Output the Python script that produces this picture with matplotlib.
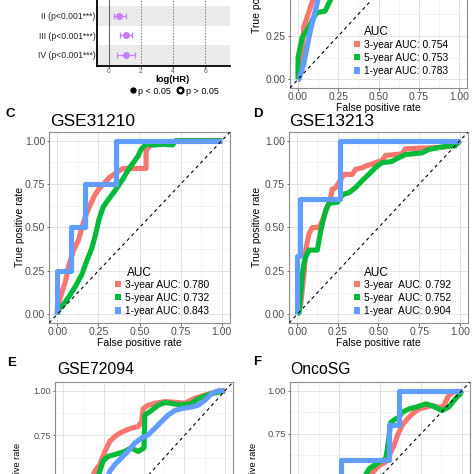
import matplotlib
matplotlib.use('Agg')
import matplotlib.pyplot as plt
from matplotlib.patches import Patch
from matplotlib.lines import Line2D

plt.rcParams['font.family'] = ['Liberation Sans', 'DejaVu Sans']

# ---------------- data ----------------
forest_labels = ['II (p<0.001***)', 'III (p<0.001***)', 'IV (p<0.001***)']
forest_loghr = [0.62, 1.06, 1.06]
forest_lo = [0.33, 0.69, 0.48]
forest_hi = [1.06, 1.46, 1.63]
forest_ticks = [0, 2, 4, 6]

roc_ticks = [0, 0.25, 0.5, 0.75, 1.0]
roc_ticklabels = ['0.00', '0.25', '0.50', '0.75', '1.00']
series_colors = ['#F8766D', '#00BA38', '#619CFF']

# Panel B (top right, partly visible)
b_3y_fpr = [0, 0.005, 0.025, 0.035, 0.055, 0.076, 0.096, 0.13, 0.2, 0.35, 0.6, 1.0]
b_3y_tpr = [0, 0.0, 0.125, 0.30, 0.355, 0.413, 0.47, 0.6, 0.75, 0.88, 0.96, 1.0]
b_5y_fpr = [0, 0.0, 0.0, 0.025, 0.066, 0.096, 0.117, 0.168, 0.188, 0.209, 0.3, 0.5, 0.7, 1.0]
b_5y_tpr = [0, 0.0, 0.125, 0.24, 0.298, 0.355, 0.384, 0.393, 0.432, 0.47, 0.65, 0.85, 0.95, 1.0]
b_1y_fpr = [0, 0.005, 0.035, 0.055, 0.076, 0.096, 0.117, 0.127, 0.18, 0.3, 0.5, 1.0]
b_1y_tpr = [0, 0.0, 0.086, 0.18, 0.278, 0.355, 0.432, 0.47, 0.65, 0.85, 0.95, 1.0]
b_labels = ['3-year AUC: 0.754', '5-year AUC: 0.753', '1-year AUC: 0.783']

# Panel C: GSE31210
c_3y_fpr = [0, 0.0, 0.02, 0.05, 0.07, 0.10, 0.13, 0.15, 0.17, 0.20, 0.23, 0.26, 0.29, 0.32, 0.35,
            0.40, 0.48, 0.54, 0.54, 0.56, 0.62, 0.8, 1.0]
c_3y_tpr = [0, 0.03, 0.10, 0.19, 0.28, 0.37, 0.43, 0.50, 0.56, 0.63, 0.69, 0.73, 0.76, 0.79, 0.81,
            0.84, 0.84, 0.84, 0.94, 0.97, 0.99, 1.0, 1.0]
c_5y_fpr = [0, 0.01, 0.04, 0.07, 0.11, 0.15, 0.18, 0.21, 0.23, 0.255, 0.28, 0.31, 0.35, 0.40, 0.43,
            0.46, 0.49, 0.51, 0.54, 0.58, 0.65, 0.70, 0.72, 1.0]
c_5y_tpr = [0, 0.03, 0.06, 0.10, 0.16, 0.23, 0.31, 0.38, 0.45, 0.55, 0.62, 0.66, 0.71, 0.78, 0.83,
            0.87, 0.91, 0.95, 0.98, 0.975, 0.98, 0.975, 1.0, 1.0]
c_1y_fpr = [0, 0, 0.083, 0.083, 0.167, 0.167, 0.36, 0.36, 1.0]
c_1y_tpr = [0, 0.25, 0.25, 0.5, 0.5, 0.75, 0.75, 1.0, 1.0]
c_labels = ['3-year AUC: 0.780', '5-year AUC: 0.732', '1-year AUC: 0.843']

# Panel D: GSE13213
d_3y_fpr = [0, 0.01, 0.022, 0.043, 0.053, 0.073, 0.094, 0.135, 0.155, 0.186, 0.206, 0.216, 0.237,
            0.257, 0.288, 0.339, 0.359, 0.40, 0.42, 0.522, 0.543, 0.645, 0.665, 0.89, 0.95, 0.99, 1.0]
d_3y_tpr = [0, 0.02, 0.06, 0.24, 0.37, 0.465, 0.50, 0.50, 0.54, 0.617, 0.674, 0.72, 0.73,
            0.76, 0.806, 0.806, 0.835, 0.844, 0.853, 0.886, 0.915, 0.924, 0.953, 0.962, 0.97, 0.99, 1.0]
d_5y_fpr = [0, 0.012, 0.022, 0.033, 0.043, 0.053, 0.073, 0.124, 0.135, 0.145, 0.165, 0.176, 0.196,
            0.247, 0.267, 0.288, 0.318, 0.359, 0.40, 0.44, 0.48, 0.52, 0.58, 0.62, 0.665, 0.767,
            0.81, 0.87, 0.93, 0.97, 1.0]
d_5y_tpr = [0, 0.01, 0.127, 0.24, 0.30, 0.33, 0.37, 0.37, 0.43, 0.48, 0.56, 0.60, 0.64,
            0.645, 0.674, 0.693, 0.70, 0.73, 0.77, 0.806, 0.844, 0.873, 0.88, 0.90, 0.92, 0.93,
            0.95, 0.96, 0.97, 0.97, 1.0]
d_1y_fpr = [0, 0, 0.02, 0.02, 0.265, 0.265, 1.0]
d_1y_tpr = [0, 0.333, 0.333, 0.667, 0.667, 1.0, 1.0]
d_labels = ['3-year  AUC: 0.792', '5-year  AUC: 0.752', '1-year  AUC: 0.904']

# Panel E: GSE72094
e_3y_fpr = [0, 0.03, 0.08, 0.12, 0.16, 0.196, 0.227, 0.258, 0.289, 0.32, 0.35, 0.39, 0.42, 0.464,
            0.485, 0.495, 0.526, 0.567, 0.63, 0.71, 0.75, 0.81, 0.876, 0.96, 1.0]
e_3y_tpr = [0, 0.12, 0.25, 0.36, 0.46, 0.55, 0.587, 0.66, 0.717, 0.744, 0.763, 0.78, 0.79, 0.80,
            0.828, 0.90, 0.92, 0.93, 0.94, 0.935, 0.93, 0.957, 0.976, 1.0, 1.0]
e_5y_fpr = [0, 0.04, 0.1, 0.15, 0.19, 0.227, 0.247, 0.278, 0.32, 0.38, 0.42, 0.464, 0.50, 0.505,
            0.546, 0.588, 0.63, 0.67, 0.73, 0.794, 0.835, 0.918, 1.0]
e_5y_tpr = [0, 0.1, 0.22, 0.34, 0.45, 0.55, 0.606, 0.633, 0.643, 0.66, 0.68, 0.66, 0.68, 0.865,
            0.89, 0.92, 0.935, 0.93, 0.92, 0.93, 0.957, 0.985, 1.0]
e_1y_fpr = [0, 0.05, 0.1, 0.16, 0.22, 0.26, 0.289, 0.32, 0.36, 0.40, 0.443, 0.485, 0.526, 0.567,
            0.608, 0.65, 0.69, 0.73, 0.794, 0.835, 0.876, 0.918, 0.96, 1.0]
e_1y_tpr = [0, 0.08, 0.17, 0.28, 0.40, 0.48, 0.55, 0.587, 0.624, 0.66, 0.707, 0.735, 0.754, 0.79,
            0.828, 0.865, 0.89, 0.90, 0.91, 0.92, 0.948, 0.985, 1.0, 1.0]

# Panel F: OncoSG
f_3y_fpr = [0, 0.1, 0.2, 0.3, 0.4, 0.495, 0.535, 0.556, 0.586, 0.606, 0.636, 0.667, 0.697, 0.737,
            0.778, 0.818, 0.859, 0.889, 0.899, 0.919, 0.95, 0.99, 1.0]
f_3y_tpr = [0, 0.12, 0.25, 0.37, 0.47, 0.567, 0.587, 0.625, 0.683, 0.74, 0.80, 0.836, 0.865, 0.894,
            0.904, 0.913, 0.904, 0.904, 0.933, 0.97, 0.994, 0.99, 1.0]
f_5y_fpr = [0, 0.1, 0.2, 0.3, 0.38, 0.434, 0.495, 0.535, 0.545, 0.556, 0.566, 0.596, 0.616, 0.636,
            0.677, 0.717, 0.778, 0.818, 0.879, 0.919, 0.96, 0.99, 1.0]
f_5y_tpr = [0, 0.1, 0.22, 0.35, 0.46, 0.548, 0.587, 0.606, 0.663, 0.74, 0.817, 0.836, 0.846, 0.875,
            0.894, 0.904, 0.923, 0.913, 0.885, 0.904, 0.952, 0.98, 1.0]
f_1y_fpr = [0, 0, 0.1, 0.1, 0.263, 0.263, 0.556, 0.556, 0.616, 0.616, 1.0]
f_1y_tpr = [0, 0.2, 0.2, 0.4, 0.4, 0.596, 0.596, 0.8, 0.8, 1.0, 1.0]

# ---------------- layout helpers ----------------
W = H = 474
fig = plt.figure(figsize=(4.74, 4.74), dpi=100)


def fbox(l, t, r, b):
    return [l / W, 1 - b / H, (r - l) / W, (b - t) / H]


def fx(x):
    return x / W


def fy(y):
    return 1 - y / H


# ---------------- forest plot (A, partial) ----------------
axf = fig.add_axes(fbox(97, -40, 230, 65.7))
rows = [3, 2, 1]
axf.set_ylim(0.451, 5.87)
axf.set_xlim(-0.75, 7.56)
axf.axhspan(0.451, 1.5, color='#EBEBEB', lw=0, zorder=0)
axf.axhspan(2.5, 3.5, color='#EBEBEB', lw=0, zorder=0)
axf.axvline(0, color='#666666', lw=0.8, zorder=1)
for t in forest_ticks[1:]:
    axf.axvline(t, color='#777777', lw=0.7, ls=(0, (1.5, 1.5)), zorder=1)
lo_err = [h - l for h, l in zip(forest_loghr, forest_lo)]
hi_err = [u - h for h, u in zip(forest_loghr, forest_hi)]
axf.errorbar(forest_loghr, rows, xerr=[lo_err, hi_err], fmt='o', color='#C77CFF',
             ms=4.0, elinewidth=0.9, capsize=2.2, capthick=0.9, zorder=3)
axf.set_yticks(rows)
axf.set_yticklabels(forest_labels, fontsize=6.2, color='#222222')
axf.set_xticks(forest_ticks)
axf.set_xticklabels([str(t) for t in forest_ticks], fontsize=4.8, color='#555555')
axf.tick_params(axis='y', length=0, pad=1.2)
axf.tick_params(axis='x', length=1.3, pad=0.6, color='#555555')
for s in ['top', 'right']:
    axf.spines[s].set_visible(False)
axf.spines['left'].set_linewidth(1.3)
axf.spines['bottom'].set_linewidth(1.3)
fig.text(fx(173), fy(79.5), 'log(HR)', fontsize=6.8, fontweight='bold', ha='center', va='center')
p_handles = [Line2D([], [], marker='o', ls='none', color='black', ms=3.5),
             Line2D([], [], marker='o', ls='none', mfc='white', mec='black', mew=1.6, ms=4.2)]
fig.legend(p_handles, ['p < 0.05', 'p > 0.05'], loc='center', bbox_to_anchor=(fx(174), fy(91)),
           ncol=2, frameon=False, fontsize=6.5, handlelength=0.8, handletextpad=0.2,
           columnspacing=0.6, borderpad=0, borderaxespad=0)


# ---------------- ROC panels ----------------
def roc_panel(box, curves, tick_fs):
    l, t, r, b = box
    ax = fig.add_axes(fbox(*box))
    ax.set_xlim(-0.05, 1.05)
    ax.set_ylim(-0.05, 1.05)
    ax.set_xticks(roc_ticks)
    ax.set_yticks(roc_ticks)
    # only label ticks that fall on the canvas (the panel is cropped)
    ylabs = [lab if -4 < b - (v + 0.05) / 1.1 * (b - t) < H + 4 else ''
             for v, lab in zip(roc_ticks, roc_ticklabels)]
    xlabs = roc_ticklabels if b + 10 < H else [''] * len(roc_ticks)
    ax.set_xticklabels(xlabs)
    ax.set_yticklabels(ylabs)
    minor = [0.125, 0.375, 0.625, 0.875]
    ax.set_xticks(minor, minor=True)
    ax.set_yticks(minor, minor=True)
    ax.grid(which='major', color='#E2E2E2', lw=0.7)
    ax.grid(which='minor', color='#EEEEEE', lw=0.5)
    ax.set_axisbelow(True)
    ax.tick_params(which='minor', length=0)
    ax.tick_params(which='major', labelsize=tick_fs, labelcolor='#4D4D4D', color='#4D4D4D',
                   length=1.8, pad=1, width=0.6)
    for sp in ax.spines.values():
        sp.set_color('#8C8C8C')
        sp.set_linewidth(0.8)
    for (fpr, tpr), c in zip(curves, series_colors):
        ax.plot(fpr, tpr, color=c, lw=3.7, solid_joinstyle='round', solid_capstyle='butt', zorder=2)
    ax.axline((0, 0), slope=1, color='black', lw=0.8, ls=(0, (3, 3)), zorder=3)
    return ax


def auc_legend(ax, labels, key_x, row_y, title_x, title_y, fs, tfs):
    handles = [Patch(facecolor=c, edgecolor='none') for c in series_colors]
    ax.legend(handles, labels, loc='upper left', bbox_to_anchor=(fx(key_x), fy(row_y - 5.5)),
              bbox_transform=fig.transFigure, frameon=False, fontsize=fs, handlelength=0.55,
              handleheight=0.55, handletextpad=0.45, labelspacing=0.32, borderpad=0,
              borderaxespad=0)
    fig.text(fx(title_x), fy(title_y), 'AUC', fontsize=tfs, ha='left', va='center')


# B
axb = roc_panel((290, -103, 467, 88), [(b_3y_fpr, b_3y_tpr), (b_5y_fpr, b_5y_tpr), (b_1y_fpr, b_1y_tpr)], 7.4)
auc_legend(axb, b_labels, 354, 45, 364, 32, 7.4, 8.5)
fig.text(fx(378.5), fy(108), 'False positive rate', fontsize=7.5, ha='center', va='center')
fig.text(fx(257), fy(-7), 'True positive rate', fontsize=7.5, ha='center', va='center', rotation=90)

# C
axc = roc_panel((49, 132, 230, 323), [(c_3y_fpr, c_3y_tpr), (c_5y_fpr, c_5y_tpr), (c_1y_fpr, c_1y_tpr)], 7.6)
auc_legend(axc, c_labels, 115, 285, 127, 273, 7.4, 8.5)
fig.text(fx(139.5), fy(343), 'False positive rate', fontsize=7.5, ha='center', va='center')
fig.text(fx(20), fy(227), 'True positive rate', fontsize=7.5, ha='center', va='center', rotation=90)
fig.text(fx(10.5), fy(114), 'C', fontsize=9.5, fontweight='bold', ha='center', va='center')
fig.text(fx(50), fy(122), 'GSE31210', fontsize=12.5, ha='left', va='center')

# D
axd = roc_panel((289, 132, 468, 323), [(d_3y_fpr, d_3y_tpr), (d_5y_fpr, d_5y_tpr), (d_1y_fpr, d_1y_tpr)], 7.4)
auc_legend(axd, d_labels, 354, 285, 364, 273, 7.4, 8.5)
fig.text(fx(378.5), fy(343), 'False positive rate', fontsize=7.5, ha='center', va='center')
fig.text(fx(257), fy(227), 'True positive rate', fontsize=7.5, ha='center', va='center', rotation=90)
fig.text(fx(258), fy(114), 'D', fontsize=9.5, fontweight='bold', ha='center', va='center')
fig.text(fx(289), fy(122), 'GSE13213', fontsize=12.5, ha='left', va='center')

# E
axe = roc_panel((55, 382, 233, 578), [(e_3y_fpr, e_3y_tpr), (e_5y_fpr, e_5y_tpr), (e_1y_fpr, e_1y_tpr)], 6.5)
fig.text(fx(17), fy(478), 'True positive rate', fontsize=6.6, ha='center', va='center', rotation=90)
fig.text(fx(12), fy(363), 'E', fontsize=9.5, fontweight='bold', ha='center', va='center')
fig.text(fx(57), fy(370), 'GSE72094', fontsize=11.3, ha='left', va='center')

# F
axF = roc_panel((290, 382, 470, 572), [(f_3y_fpr, f_3y_tpr), (f_5y_fpr, f_5y_tpr), (f_1y_fpr, f_1y_tpr)], 6.8)
fig.text(fx(254), fy(478), 'True positive rate', fontsize=6.6, ha='center', va='center', rotation=90)
fig.text(fx(257), fy(362), 'F', fontsize=9.5, fontweight='bold', ha='center', va='center')
fig.text(fx(290), fy(370), 'OncoSG', fontsize=11.3, ha='left', va='center')

fig.savefig('out.png', dpi=100)
